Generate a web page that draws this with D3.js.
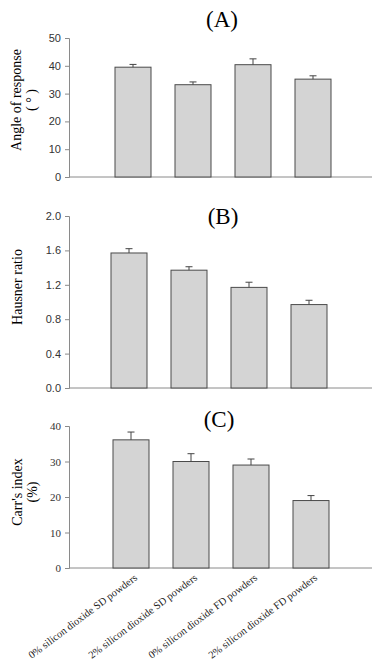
<!DOCTYPE html>
<html>
<head>
<meta charset="utf-8">
<script src="https://cdn.jsdelivr.net/npm/d3@7"></script>
<style>
  body { margin: 0; background: #fff; }
  svg { display: block; }
</style>
</head>
<body>
<div id="chart"></div>
<script>
// data
const categories = ["0% silicon dioxide SD powders", "2% silicon dioxide SD powders",
                    "0% silicon dioxide FD powders", "2% silicon dioxide FD powders"];

const angleValues = [39.5, 33.2, 40.4, 35.2];
const angleErrors = [1.0, 1.0, 2.1, 1.2];

const hausnerValues = [1.57, 1.37, 1.17, 0.97];
const hausnerErrors = [0.05, 0.04, 0.06, 0.05];

const carrValues = [36.1, 30.0, 29.0, 19.0];
const carrErrors = [2.2, 2.2, 1.7, 1.4];

const angleTicks = [0, 10, 20, 30, 40, 50];
const hausnerTicks = [0, 0.4, 0.8, 1.2, 1.6, 2.0];
const carrTicks = [0, 10, 20, 30, 40];

const width = 380, height = 668;

const svg = d3.select("#chart").append("svg")
    .attr("width", width)
    .attr("height", height);

// one panel = one small bar chart
function drawPanel(p) {
    let g = svg.append("g");

    let x = d3.scaleBand()
        .domain(categories)
        .range(p.xRange)
        .paddingInner(0.4)
        .paddingOuter(0.2);

    let y = d3.scaleLinear()
        .domain([0, p.max])
        .range([p.bottom, p.top]);

    // y axis
    let yAxis = d3.axisLeft(y)
        .tickValues(p.ticks)
        .tickSize(4)
        .tickPadding(4)
        .tickFormat(p.format);

    let ya = g.append("g")
        .attr("transform", "translate(69,0)")
        .call(yAxis);
    ya.select(".domain").attr("stroke", "#8a8a8a");
    ya.selectAll(".tick line").attr("stroke", "#8a8a8a");
    ya.selectAll(".tick text")
        .attr("fill", "#333")
        .style("font-family", p.tickFont)
        .style("font-size", "11px");

    // x axis line
    g.append("line")
        .attr("x1", 69).attr("x2", 372)
        .attr("y1", y(0)).attr("y2", y(0))
        .attr("stroke", "#8a8a8a");

    // bars
    g.selectAll(".bar")
        .data(p.values)
        .enter().append("rect")
        .attr("class", "bar")
        .attr("x", (d, i) => x(categories[i]))
        .attr("y", d => y(d))
        .attr("width", x.bandwidth())
        .attr("height", d => y(0) - y(d))
        .attr("fill", "#d4d4d4")
        .attr("stroke", "#4a4a4a")
        .attr("stroke-width", 1);

    // error bars (upper only)
    let err = g.selectAll(".err")
        .data(p.values)
        .enter().append("g")
        .attr("class", "err");
    err.append("line")
        .attr("x1", (d, i) => x(categories[i]) + x.bandwidth() / 2)
        .attr("x2", (d, i) => x(categories[i]) + x.bandwidth() / 2)
        .attr("y1", d => y(d))
        .attr("y2", (d, i) => y(d + p.errors[i]))
        .attr("stroke", "#444");
    err.append("line")
        .attr("x1", (d, i) => x(categories[i]) + x.bandwidth() / 2 - 3.5)
        .attr("x2", (d, i) => x(categories[i]) + x.bandwidth() / 2 + 3.5)
        .attr("y1", (d, i) => y(d + p.errors[i]))
        .attr("y2", (d, i) => y(d + p.errors[i]))
        .attr("stroke", "#444");

    // panel title
    g.append("text")
        .attr("x", p.titleX)
        .attr("y", p.titleY)
        .attr("text-anchor", "middle")
        .style("font-family", "'Liberation Serif', serif")
        .style("font-size", "23px")
        .text(p.title);

    // y axis title (one or two lines)
    p.yLabel.forEach(function(line, i) {
        g.append("text")
            .attr("transform", "translate(" + (p.yLabelX + i * 15) + "," + p.yLabelY + ") rotate(-90)")
            .attr("text-anchor", "middle")
            .style("font-family", "'Liberation Serif', serif")
            .style("font-size", "14px")
            .text(line);
    });

    // category labels on the last panel
    if (p.showCategories) {
        g.selectAll(".cat")
            .data(categories)
            .enter().append("text")
            .attr("class", "cat")
            .attr("transform", d => "translate(" + (x(d) + x.bandwidth() / 2 + 7) + "," + (y(0) + 11) + ") rotate(-37)")
            .attr("text-anchor", "end")
            .attr("fill", "#222")
            .style("font-family", "'Liberation Serif', serif")
            .style("font-size", "10.5px")
            .text(d => d);
    }
}

drawPanel({
    values: angleValues, errors: angleErrors, ticks: angleTicks,
    max: 50, top: 38, bottom: 177, xRange: [103, 343],
    format: d3.format("d"), tickFont: "'Liberation Sans', sans-serif",
    title: "(A)", titleX: 222, titleY: 27,
    yLabel: ["Angle of response", "( ° )"], yLabelX: 21, yLabelY: 100
});

drawPanel({
    values: hausnerValues, errors: hausnerErrors, ticks: hausnerTicks,
    max: 2.0, top: 216, bottom: 388, xRange: [99, 339],
    format: d3.format(".1f"), tickFont: "'Liberation Sans', sans-serif",
    title: "(B)", titleX: 223, titleY: 224,
    yLabel: ["Hausner ratio"], yLabelX: 22, yLabelY: 287
});

drawPanel({
    values: carrValues, errors: carrErrors, ticks: carrTicks,
    max: 40, top: 426, bottom: 568, xRange: [101, 341],
    format: d3.format("d"), tickFont: "'Liberation Serif', serif",
    title: "(C)", titleX: 219, titleY: 427,
    yLabel: ["Carr's index", "(%)"], yLabelX: 22, yLabelY: 492,
    showCategories: true
});
</script>
</body>
</html>
